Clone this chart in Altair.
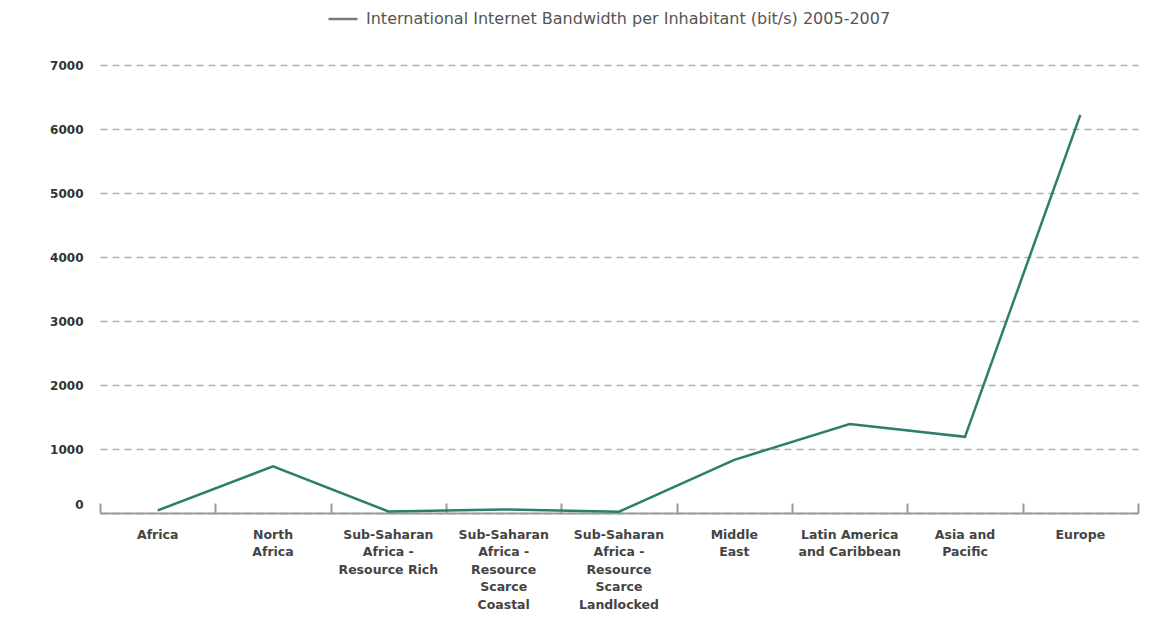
import altair as alt
import pandas as pd

categories = [
    "Africa",
    "North|Africa",
    "Sub-Saharan|Africa -|Resource Rich",
    "Sub-Saharan|Africa -|Resource|Scarce|Coastal",
    "Sub-Saharan|Africa -|Resource|Scarce|Landlocked",
    "Middle|East",
    "Latin America|and Caribbean",
    "Asia and|Pacific",
    "Europe",
]
values = [40, 730, 25, 55, 20, 830, 1390, 1190, 6220]
series_name = "International Internet Bandwidth per Inhabitant (bit/s) 2005-2007"
y_ticks = [0, 1000, 2000, 3000, 4000, 5000, 6000, 7000]

df = pd.DataFrame({"region": categories, "value": values, "series": [series_name] * len(categories)})

W, H = 1038, 448
FONT = "DejaVu Sans"

xscale = alt.Scale(type="band", paddingInner=0, paddingOuter=0)
yscale = alt.Scale(domain=[0, 7000], nice=False)

bottom_axis = alt.Axis(
    orient="bottom", title=None, labelAngle=0, ticks=False, grid=False,
    domainColor="#9a9a9a", domainWidth=2,
    labelExpr="split(datum.label, '|')", labelFont=FONT, labelFontSize=12.5,
    labelFontWeight="bold", labelColor="#444444", labelLineHeight=17.5,
    labelPadding=15, labelBaseline="top", labelLimit=200,
)
top_axis = alt.Axis(
    orient="top", offset=-H, title=None, labels=False, domain=False, grid=False,
    ticks=True, tickBand="extent", tickSize=10, tickColor="#9a9a9a", tickWidth=2,
)

yaxis = alt.Axis(
    title=None, values=y_ticks, format="d", domain=False, ticks=False,
    grid=True, gridDash=[7, 5], gridColor="#b0b0b0", gridWidth=1.5,
    labelFont=FONT, labelFontSize=12, labelFontWeight="bold", labelColor="#333333",
    labelPadding=17,
    labelOffset={"condition": {"test": "datum.value == 0", "value": -9}, "value": 0},
)

line = alt.Chart(df).mark_line(strokeWidth=2.5, color="#2b7d6d").encode(
    x=alt.X("region:N", sort=categories, scale=xscale, bandPosition=0.5, axis=bottom_axis),
    y=alt.Y("value:Q", scale=yscale, axis=yaxis),
)

legend_layer = alt.Chart(df).mark_line(strokeWidth=0).encode(
    x=alt.X("region:N", sort=categories, scale=xscale, bandPosition=0.5, axis=top_axis),
    y=alt.Y("value:Q", scale=yscale, axis=yaxis),
    color=alt.Color(
        "series:N",
        scale=alt.Scale(range=["#7a7a7a"]),
        legend=alt.Legend(
            orient="none", legendX=227, legendY=-62, title=None,
            symbolType="stroke", symbolSize=841, symbolStrokeWidth=2.5,
            symbolStrokeColor="#7a7a7a", labelFont=FONT, labelFontSize=16,
            labelColor="#555555", labelOffset=7, labelLimit=900, padding=0,
        ),
    ),
)

chart = alt.layer(line, legend_layer).resolve_axis(x="independent").properties(
    width=W, height=H,
    autosize=alt.AutoSizeParams(type="none"),
    padding={"left": 92, "top": 57, "right": 2, "bottom": 100},
).configure_view(stroke=None)

chart.save("out.html", embed_options={"renderer": "svg", "actions": False})
